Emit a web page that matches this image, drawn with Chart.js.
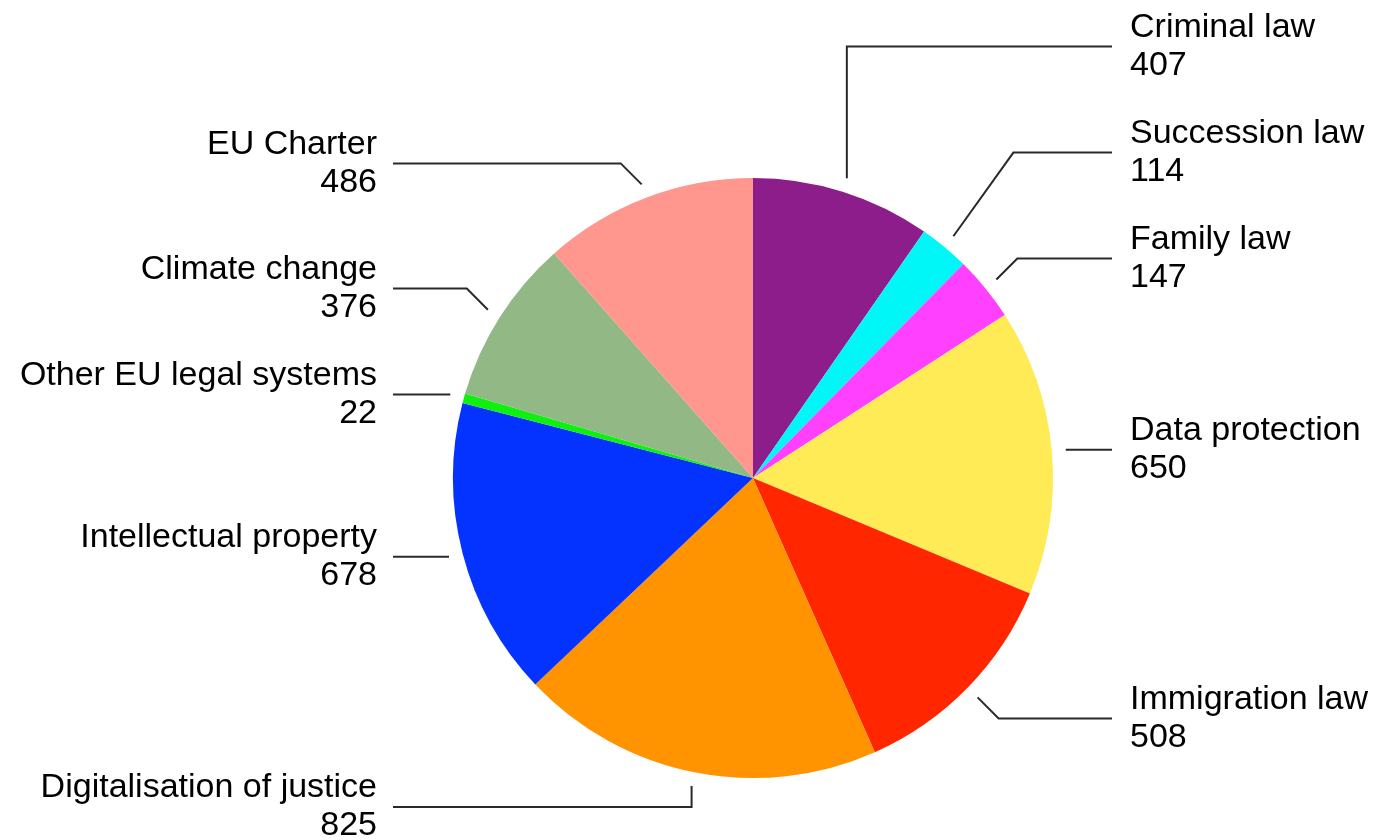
<!DOCTYPE html>
<html>
<head>
<meta charset="utf-8">
<script src="https://cdn.jsdelivr.net/npm/chart.js@4"></script>
<style>
  html, body { margin: 0; padding: 0; background: #ffffff; }
  #wrap { width: 1380px; height: 840px; }
</style>
</head>
<body>
<div id="wrap"><canvas id="c" width="1380" height="840"></canvas></div>
<script>
const categories = [
  "Criminal law", "Succession law", "Family law", "Data protection", "Immigration law",
  "Digitalisation of justice", "Intellectual property", "Other EU legal systems",
  "Climate change", "EU Charter"
];
const values = [407, 114, 147, 650, 508, 825, 678, 22, 376, 486];
const sliceColors = [
  "#8D1D8B", "#00F7F7", "#FF40FF", "#FFEB55", "#FF2600",
  "#FF9300", "#0433FF", "#10F010", "#92B886", "#FF978E"
];

const calloutPlugin = {
  id: "callouts",
  afterDatasetsDraw(chart) {
    const ctx = chart.ctx;
    const meta = chart.getDatasetMeta(0);
    const data = chart.data.datasets[0].data;
    const labels = chart.data.labels;
    const gapOut = 14, drop = 21, minGap = 106, maxDiag = 60;
    const items = meta.data.map((arc, i) => {
      const p = arc.getProps(["x", "y", "startAngle", "endAngle", "outerRadius"], true);
      const a = (p.startAngle + p.endAngle) / 2;
      const r = p.outerRadius + gapOut;
      const sx = p.x + r * Math.cos(a);
      const sy = p.y + r * Math.sin(a);
      const side = Math.cos(a) >= 0 ? 1 : -1;
      let type = "h";
      if (Math.abs(Math.cos(a)) < 0.34) type = "v";
      else if (Math.abs(sy - p.y) > 120) type = "d";
      let want = sy;
      if (type !== "h") want = sy + (sy > p.y ? drop : -drop);
      return { i, a, sx, sy, side, type, want, cx: p.x, cy: p.y, R: p.outerRadius, y: want };
    });
    [1, -1].forEach(side => {
      const grp = items.filter(o => o.side === side);
      const upper = grp.filter(o => o.sy <= o.cy).sort((m, n) => n.want - m.want);
      let prev = null;
      upper.forEach(o => { o.y = prev === null ? o.want : Math.min(o.want, prev - minGap); prev = o.y; });
      const lower = grp.filter(o => o.sy > o.cy).sort((m, n) => m.want - n.want);
      prev = null;
      lower.forEach(o => { o.y = prev === null ? o.want : Math.max(o.want, prev + minGap); prev = o.y; });
    });
    ctx.save();
    ctx.strokeStyle = "#2a2a2a";
    ctx.lineWidth = 2;
    ctx.font = "34px 'Liberation Sans', Arial, Helvetica, sans-serif";
    ctx.fillStyle = "#000000";
    ctx.textBaseline = "middle";
    items.forEach(o => {
      const textX = o.side > 0 ? o.cx + o.R + 77 : o.cx - o.R - 76;
      const endX = o.side > 0 ? textX - 18 : textX + 16;
      ctx.beginPath();
      ctx.moveTo(o.sx, o.sy);
      if (o.type === "v") {
        ctx.lineTo(o.sx, o.y);
      } else if (Math.abs(o.y - o.sy) > 0.5) {
        const ex = o.sx + o.side * Math.min(Math.abs(o.y - o.sy), maxDiag);
        ctx.lineTo(ex, o.y);
      }
      ctx.lineTo(endX, o.y);
      ctx.stroke();
      ctx.textAlign = o.side > 0 ? "left" : "right";
      ctx.fillText(labels[o.i], textX, o.y - 19);
      ctx.fillText(String(data[o.i]), textX, o.y + 19);
    });
    ctx.restore();
  }
};

new Chart(document.getElementById("c"), {
  type: "pie",
  data: {
    labels: categories,
    datasets: [{ data: values, backgroundColor: sliceColors, borderWidth: 0, hoverOffset: 0 }]
  },
  options: {
    responsive: false,
    animation: false,
    layout: { padding: { left: 453, right: 327, top: 178, bottom: 62 } },
    plugins: { legend: { display: false }, tooltip: { enabled: false } },
    events: []
  },
  plugins: [calloutPlugin]
});
</script>
</body>
</html>
